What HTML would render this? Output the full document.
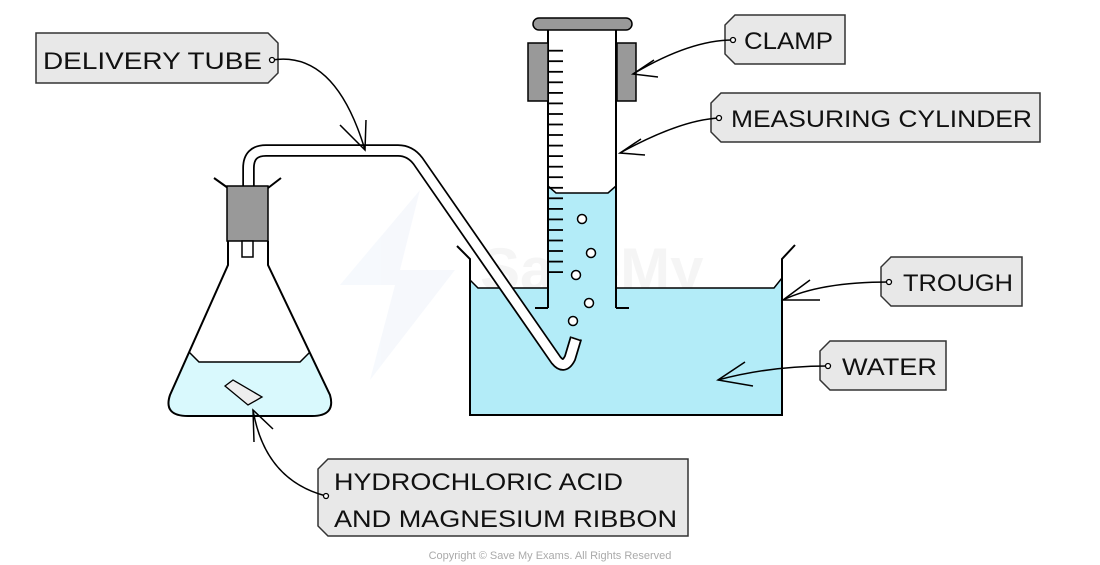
<!DOCTYPE html>
<html><head><meta charset="utf-8"><style>
html,body{margin:0;padding:0;background:#fff;}
svg{display:block;}
text{font-family:"Liberation Sans",sans-serif;}
</style></head><body>
<svg width="1100" height="565" viewBox="0 0 1100 565" xmlns="http://www.w3.org/2000/svg">
<!-- watermark -->
<g opacity="0.5">
<polygon points="420,190 340,285 395,285 370,380 455,270 400,270" fill="#eef3fb"/>
<text x="480" y="290" font-size="60" font-weight="bold" fill="#ececec">SaveMy</text>
<text x="480" y="350" font-size="60" font-weight="bold" fill="#ececec">Exams</text>
</g>

<!-- trough water -->
<path d="M470,415 L470,280 L478,288 L774,288 L782,278 L782,415 Z" fill="#b3ecf8"/>
<!-- cylinder water -->
<path d="M548,308 L548,186 L556,193 L608,193 L616,186 L616,308 Z" fill="#b3ecf8"/>
<path d="M548,186 L556,193 L608,193 L616,186" fill="none" stroke="#000" stroke-width="1.5"/>
<path d="M470,280 L478,288 L548,288 M616,288 L774,288 L782,278" fill="none" stroke="#000" stroke-width="1.5"/>
<!-- trough walls -->
<path d="M457,246 L470,259 L470,415 L782,415 L782,259 L795,245" fill="none" stroke="#000" stroke-width="2"/>

<!-- cylinder -->
<path d="M548,22 L548,308 M616,22 L616,308 M535,308 L548,308 M616,308 L629,308" fill="none" stroke="#000" stroke-width="2"/>
<g stroke="#000" stroke-width="1.8">
<line x1="548" y1="50.7" x2="563" y2="50.7"/><line x1="548" y1="61.2" x2="563" y2="61.2"/><line x1="548" y1="71.8" x2="563" y2="71.8"/><line x1="548" y1="82.3" x2="563" y2="82.3"/><line x1="548" y1="92.9" x2="563" y2="92.9"/><line x1="548" y1="103.4" x2="563" y2="103.4"/><line x1="548" y1="114" x2="563" y2="114"/><line x1="548" y1="124.5" x2="563" y2="124.5"/><line x1="548" y1="135" x2="563" y2="135"/><line x1="548" y1="145.6" x2="563" y2="145.6"/><line x1="548" y1="156.1" x2="563" y2="156.1"/><line x1="548" y1="166.7" x2="563" y2="166.7"/><line x1="548" y1="177.2" x2="563" y2="177.2"/><line x1="548" y1="187.8" x2="563" y2="187.8"/><line x1="548" y1="198.3" x2="563" y2="198.3"/><line x1="548" y1="208.9" x2="563" y2="208.9"/><line x1="548" y1="219.4" x2="563" y2="219.4"/><line x1="548" y1="230" x2="563" y2="230"/><line x1="548" y1="240.5" x2="563" y2="240.5"/><line x1="548" y1="251" x2="563" y2="251"/><line x1="548" y1="261.6" x2="563" y2="261.6"/><line x1="548" y1="272.1" x2="563" y2="272.1"/>
</g>
<rect x="533" y="18" width="99" height="12" rx="6" fill="#999" stroke="#000" stroke-width="1.5"/>
<rect x="528" y="43" width="20" height="58" fill="#999" stroke="#000" stroke-width="1.5"/>
<rect x="617" y="43" width="19" height="58" fill="#999" stroke="#000" stroke-width="1.5"/>
<!-- bubbles -->
<g fill="#fff" stroke="#000" stroke-width="1.5">
<circle cx="582" cy="219" r="4.5"/><circle cx="591" cy="253" r="4.5"/><circle cx="576" cy="275" r="4.5"/><circle cx="589" cy="303" r="4.5"/><circle cx="573" cy="321" r="4.5"/>
</g>

<!-- flask -->
<path d="M189,352 L199,362 L300,362 L310,352 L330,395 Q336,416 312,416 L188,416 Q163,416 170,395 Z" fill="#d9f9fd"/>
<path d="M189,352 L199,362 L300,362 L310,352" fill="none" stroke="#000" stroke-width="1.5"/>
<path d="M228,241 L228,265 L170,395 Q163,416 188,416 L312,416 Q336,416 330,395 L268,265 L268,241" fill="none" stroke="#000" stroke-width="2"/>
<path d="M214,178 L228,188 M281,178 L268,188" stroke="#000" stroke-width="2"/>
<path d="M225,386 L233,380 L262,397 L248,405 Z" fill="#eee" stroke="#000" stroke-width="1.3"/>
<!-- tube -->
<path d="M248.5,190 L248.5,168 Q248.5,150.5 266,150.5 L398,150.5 Q410,150.5 418,161 L556,360 Q564,370 570,358 L576,338" fill="none" stroke="#000" stroke-width="12.5" stroke-linejoin="round"/>
<path d="M248.5,190 L248.5,168 Q248.5,150.5 266,150.5 L398,150.5 Q410,150.5 418,161 L556,360 Q564,370 570,358 L576,338" fill="none" stroke="#fff" stroke-width="9" stroke-linejoin="round"/>
<path d="M571.5,337.5 L580.5,340.5" stroke="#000" stroke-width="1.5"/>
<rect x="227" y="186" width="41" height="55" fill="#999" stroke="#000" stroke-width="1.5"/>
<rect x="242" y="241" width="11" height="16" fill="#fff" stroke="#000" stroke-width="1.5"/>

<!-- labels -->
<g fill="#e8e8e8" stroke="#333" stroke-width="1.5">
<path d="M36,33 L268,33 L278,43 L278,73 L268,83 L36,83 Z"/>
<path d="M735,15 L845,15 L845,64 L735,64 L725,54 L725,25 Z"/>
<path d="M721,93 L1040,93 L1040,142 L721,142 L711,132 L711,103 Z"/>
<path d="M891,257 L1022,257 L1022,306 L891,306 L881,296 L881,267 Z"/>
<path d="M830,341 L946,341 L946,390 L830,390 L820,380 L820,351 Z"/>
<path d="M328,459 L688,459 L688,536 L328,536 L318,526 L318,469 Z"/>
</g>
<g font-size="24" fill="#111">
<text x="43" y="69" textLength="219" lengthAdjust="spacingAndGlyphs">DELIVERY  TUBE</text>
<text x="744" y="49" textLength="89" lengthAdjust="spacingAndGlyphs">CLAMP</text>
<text x="731" y="127" textLength="301" lengthAdjust="spacingAndGlyphs">MEASURING  CYLINDER</text>
<text x="903" y="291" textLength="110" lengthAdjust="spacingAndGlyphs">TROUGH</text>
<text x="842" y="375" textLength="95" lengthAdjust="spacingAndGlyphs">WATER</text>
<text x="334" y="490" textLength="289" lengthAdjust="spacingAndGlyphs">HYDROCHLORIC  ACID</text>
<text x="334" y="527" textLength="343" lengthAdjust="spacingAndGlyphs">AND  MAGNESIUM  RIBBON</text>
</g>
<!-- connectors -->
<g fill="none" stroke="#000" stroke-width="1.5">
<path d="M272,60 Q335,50 365,150"/><path d="M340,125 L365,150 L366,120"/>
<path d="M733,40 Q690,40 633,74"/><path d="M654,60 L633,74 L658,77"/>
<path d="M719,118 Q680,120 620,153"/><path d="M641,139 L620,153 L645,155"/>
<path d="M889,282 Q820,282 783,300"/><path d="M810,280 L783,300 L820,300"/>
<path d="M828,366 Q770,366 718,380"/><path d="M745,362 L718,380 L753,386"/>
<path d="M326,496 Q265,480 253,410"/><path d="M254,442 L253,410 L273,429"/>
</g>
<g fill="#fff" stroke="#000" stroke-width="1.3">
<circle cx="272" cy="60" r="2.5"/><circle cx="733" cy="40" r="2.5"/><circle cx="719" cy="118" r="2.5"/><circle cx="889" cy="282" r="2.5"/><circle cx="828" cy="366" r="2.5"/><circle cx="326" cy="496" r="2.5"/>
</g>
<text x="550" y="559" font-size="11" fill="#aaa" text-anchor="middle">Copyright © Save My Exams. All Rights Reserved</text>
</svg>
</body></html>
